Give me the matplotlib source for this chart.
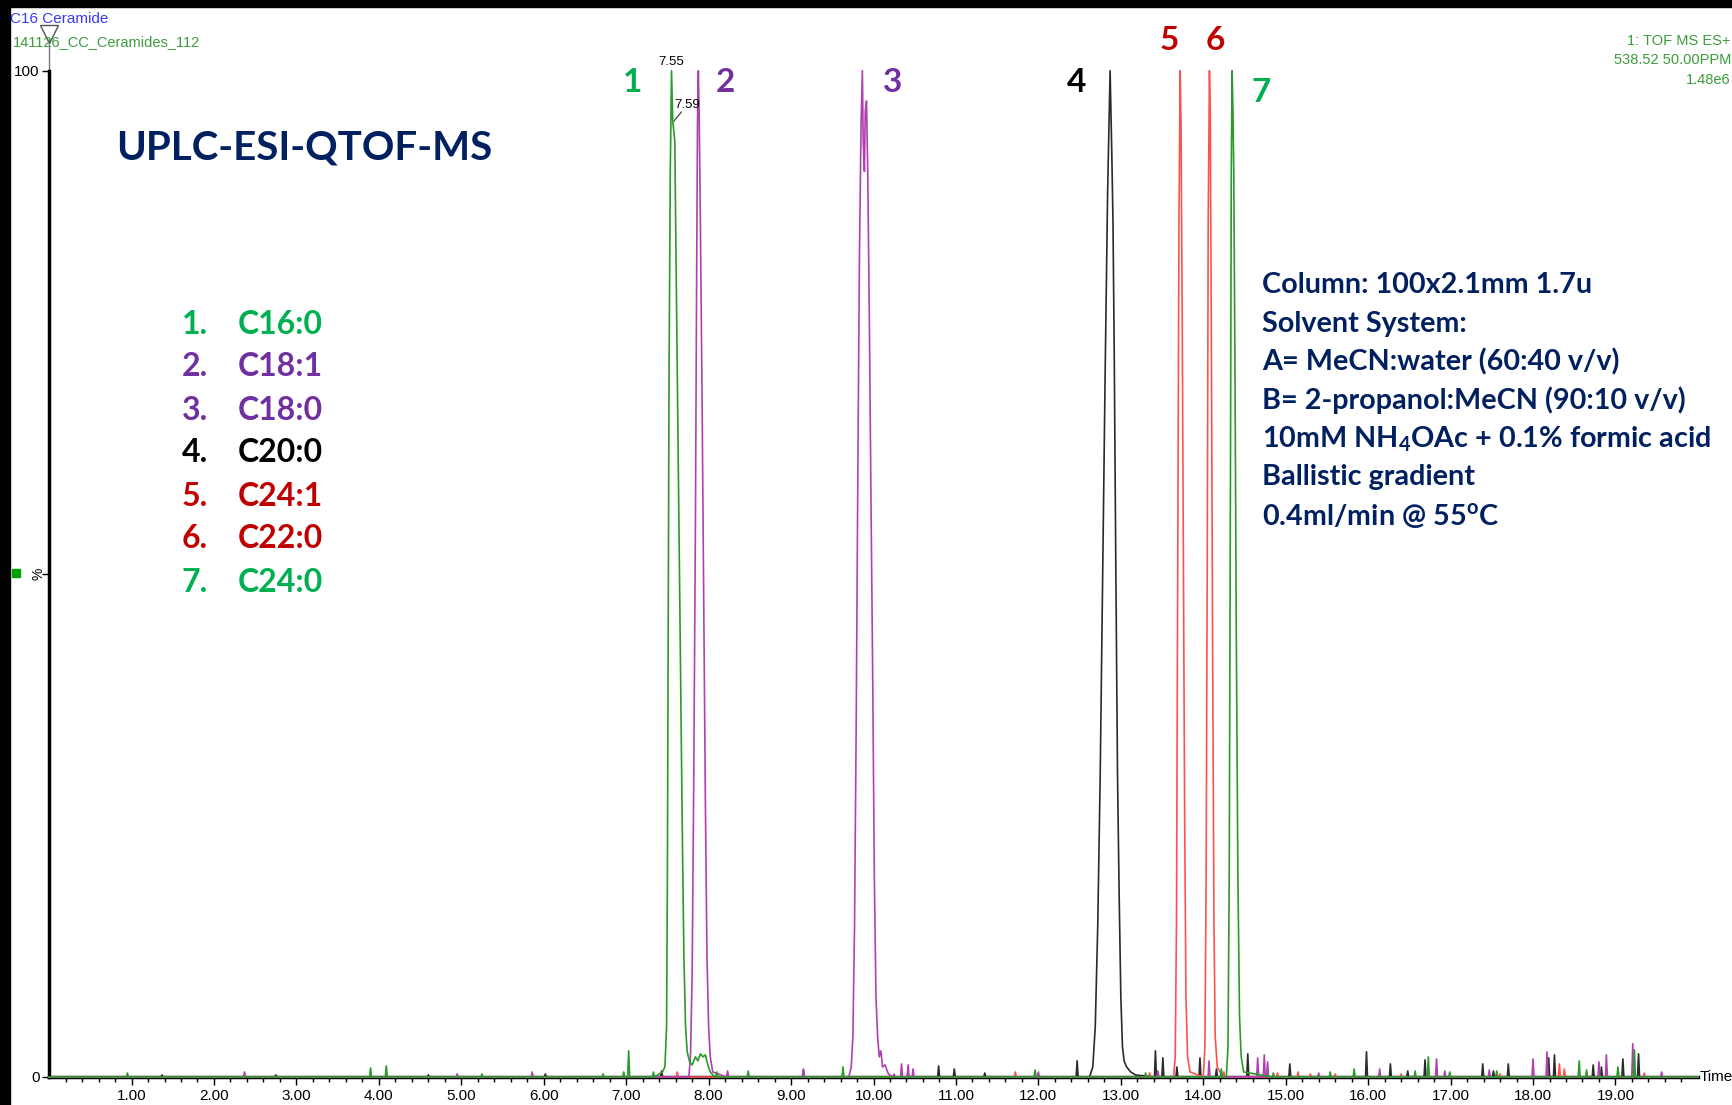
import numpy as np
import matplotlib
matplotlib.use('Agg')
import matplotlib.pyplot as plt
from matplotlib.patches import Rectangle

# ---- data (time in min, intensity in %) ----
compounds = ['C16:0', 'C18:1', 'C18:0', 'C20:0', 'C24:1', 'C22:0', 'C24:0']
peak_rt = [7.55, 7.87, 9.87, 12.87, 13.72, 14.075, 14.35]

green_peak1_t = [7.44, 7.47, 7.49, 7.50, 7.51, 7.52, 7.535, 7.55, 7.565, 7.59, 7.60,
                 7.62, 7.64, 7.66, 7.68, 7.70, 7.72, 7.74, 7.77, 7.80, 7.84, 7.87,
                 7.90, 7.93, 7.96, 7.99, 8.02, 8.05]
green_peak1_y = [0.5, 1.0, 5, 20, 45, 70, 90, 100, 95, 93, 85,
                 70, 55, 40, 25, 12, 5, 2.5, 1.5, 1.2, 2.0, 1.6,
                 2.3, 2.0, 2.2, 1.2, 0.5, 0.2]
green_peak7_t = [14.28, 14.30, 14.315, 14.33, 14.34, 14.35, 14.36, 14.37, 14.385,
                 14.40, 14.42, 14.44, 14.46, 14.49]
green_peak7_y = [0, 3, 20, 60, 90, 100, 96, 90, 70, 45, 20, 6, 2, 0.5]
green_noise = [(0.95, 0.4), (3.90, 0.9), (4.09, 1.1), (5.25, 0.3), (6.72, 0.3),
               (6.97, 0.5), (7.03, 2.6), (7.33, 0.5), (8.10, 0.5), (8.48, 0.6),
               (9.63, 1.0), (11.96, 0.7), (13.30, 0.4), (14.22, 0.8), (14.85, 0.4),
               (15.54, 0.5), (15.83, 0.8), (16.57, 0.6), (16.73, 2.0), (16.99, 0.5),
               (17.56, 0.6), (18.56, 1.6), (18.65, 0.7), (19.03, 1.0), (19.23, 2.7)]

purple_peak2_t = [7.76, 7.78, 7.80, 7.82, 7.84, 7.855, 7.865, 7.875, 7.885, 7.90,
                  7.92, 7.94, 7.96, 7.98, 8.00, 8.02, 8.05]
purple_peak2_y = [0, 2, 10, 30, 55, 80, 95, 100, 96, 85, 68, 48, 28, 12, 5, 2, 0.5]
purple_peak3_t = [9.70, 9.73, 9.75, 9.77, 9.79, 9.81, 9.83, 9.85, 9.865, 9.875, 9.89,
                  9.90, 9.915, 9.93, 9.95, 9.97, 9.99, 10.01, 10.03, 10.05, 10.07,
                  10.09, 10.11, 10.14, 10.18]
purple_peak3_y = [0, 1, 4, 15, 35, 60, 82, 95, 100, 93, 90,
                  96, 97, 90, 75, 57, 40, 20, 8, 4, 2,
                  2.6, 1, 1.2, 0.3]
purple_noise = [(2.37, 0.5), (4.95, 0.3), (5.86, 0.5), (8.23, 0.6), (9.15, 0.8),
                (10.25, 0.3), (10.34, 1.3), (10.42, 1.2), (10.48, 0.8), (12.00, 0.5),
                (13.45, 0.6), (14.07, 1.6), (14.66, 1.9), (14.74, 2.2), (14.78, 1.5),
                (15.40, 0.4), (16.14, 0.8), (16.83, 1.8), (16.93, 0.6), (17.47, 0.7),
                (18.00, 1.8), (18.17, 2.5), (18.80, 1.5), (18.89, 2.2), (19.21, 3.3),
                (19.56, 0.5)]

black_peak4_t = [12.62, 12.66, 12.69, 12.72, 12.75, 12.78, 12.81, 12.84, 12.87, 12.89,
                 12.905, 12.92, 12.94, 12.96, 12.98, 13.00, 13.02, 13.04, 13.07, 13.12,
                 13.18]
black_peak4_y = [0, 1, 5, 15, 30, 50, 70, 88, 100, 92,
                 85, 72, 50, 30, 18, 8, 3, 1.6, 1.0, 0.5,
                 0.2]
black_noise = [(1.37, 0.2), (2.75, 0.2), (4.60, 0.2), (6.02, 0.3), (7.43, 0.6),
               (9.15, 0.7), (10.79, 1.1), (10.98, 0.8), (11.35, 0.4), (12.47, 1.6),
               (13.42, 2.6), (13.51, 1.9), (13.68, 1.0), (13.96, 1.9), (14.16, 0.8),
               (14.54, 2.3), (15.05, 1.3), (15.98, 2.5), (16.27, 1.3), (16.48, 0.6),
               (16.69, 1.7), (17.39, 1.3), (17.52, 0.6), (17.70, 1.3), (18.19, 1.9),
               (18.26, 2.2), (18.73, 1.2), (18.83, 1.0), (19.09, 1.8), (19.28, 2.3)]

red_peak5_t = [13.64, 13.66, 13.675, 13.69, 13.705, 13.72, 13.73, 13.745, 13.76,
               13.775, 13.79, 13.81, 13.84]
red_peak5_y = [0, 2, 15, 50, 85, 100, 95, 75, 50, 25, 8, 2, 0.5]
red_peak6_t = [14.00, 14.02, 14.035, 14.05, 14.06, 14.075, 14.085, 14.10, 14.115,
               14.13, 14.145, 14.17]
red_peak6_y = [0, 3, 20, 55, 85, 100, 96, 70, 40, 15, 4, 1]
red_noise = [(7.62, 0.5), (11.72, 0.5), (13.35, 0.4), (14.25, 0.5), (14.90, 0.4),
             (15.15, 0.5), (15.30, 0.3), (15.60, 0.3), (16.40, 0.3), (17.60, 0.3),
             (18.32, 1.3), (18.38, 0.8), (19.35, 0.4)]

conditions = ['Column: 100x2.1mm 1.7u',
              'Solvent System:',
              'A= MeCN:water (60:40 v/v)',
              'B= 2-propanol:MeCN (90:10 v/v)',
              r'10mM NH$_\mathregular{4}$OAc + 0.1% formic acid',
              'Ballistic gradient',
              r'0.4ml/min @ 55$^\mathregular{o}$C']

header_right = ['1: TOF MS ES+', '538.52 50.00PPM', '1.48e6']

GREEN, PURPLE, BLACK, RED = '#00b050', '#7030a0', '#000000', '#c00000'
NAVY = '#002060'
label_colors = [GREEN, PURPLE, PURPLE, BLACK, RED, RED, GREEN]

W, H = 1733, 1105


def fx(px):
    return px / W


def fy(py):
    return 1 - py / H


def build_trace(peaks, spikes, hw=0.012):
    """baseline from 0 to 20 min with peak profiles and narrow noise spikes"""
    pts = [(0.0, 0.0), (20.0, 0.0)]
    for t, y in peaks:
        pts += list(zip(t, y))
    for t, h in spikes:
        pts += [(t - hw, 0.0), (t, h), (t + hw, 0.0)]
    pts.sort()
    return [p[0] for p in pts], [p[1] for p in pts]


fig = plt.figure(figsize=(W / 100, H / 100), dpi=100)
x0, x20 = 49.1, 1697.9
y0, ytop = 1077, 35.5
ax = fig.add_axes([fx(x0), (H - y0) / H, (x20 - x0) / W, (y0 - ytop) / H])
ax.set_xlim(0, 20)
ax.set_ylim(0, 103.5)

traces = [
    ([(black_peak4_t, black_peak4_y)], black_noise, '#2a2a2a'),
    ([(red_peak5_t, red_peak5_y), (red_peak6_t, red_peak6_y)], red_noise, '#ff5050'),
    ([(purple_peak2_t, purple_peak2_y), (purple_peak3_t, purple_peak3_y)], purple_noise, '#b040b0'),
    ([(green_peak1_t, green_peak1_y), (green_peak7_t, green_peak7_y)], green_noise, '#2a9a2a'),
]
for peaks, noise, c in traces:
    t, y = build_trace(peaks, noise)
    ax.plot(t, y, color=c, lw=1.2, clip_on=False, zorder=3)

# axes styling
for s in ['top', 'right']:
    ax.spines[s].set_visible(False)
ax.spines['left'].set_bounds(0, 100)
ax.spines['left'].set_linewidth(2.5)
ax.spines['bottom'].set_linewidth(2.5)
ax.set_xticks(np.arange(1, 20))
ax.set_xticklabels(['%.2f' % v for v in range(1, 20)])
ax.set_xticks(np.arange(0.2, 20.0, 0.2), minor=True)
ax.tick_params(axis='x', which='major', length=6, width=1, pad=3, labelsize=11)
ax.tick_params(axis='x', which='minor', length=3.5, width=1)
ax.set_yticks([0, 50, 100])
ax.set_yticklabels(['0', '', '100'])
ax.tick_params(axis='y', length=5, width=1, pad=2, labelsize=11)
for lab in ax.get_xticklabels() + ax.get_yticklabels():
    lab.set_fontfamily('Liberation Sans')
ax.text(-0.13, 50, '%', rotation=90, ha='center', va='center', fontsize=10,
        family='Liberation Sans')
ax.text(20.02, 0, 'Time', ha='left', va='center', fontsize=11, family='Liberation Sans')

# marker line above the axis
ax.plot([0, 0], [100, 103.2], color='#777777', lw=1, clip_on=False)
ax.plot(0, 103.6, marker='v', ms=13, mfc='none', mec='#555555', mew=1, clip_on=False)

# apex annotations
ax.text(peak_rt[0], 100.9, '7.55', ha='center', va='center', fontsize=9.5,
        family='Liberation Sans')
ax.text(7.74, 96.6, '7.59', ha='center', va='center', fontsize=9.5,
        family='Liberation Sans')
ax.plot([7.58, 7.67], [95.0, 95.9], color='#333333', lw=0.8)

# peak numbers
num_pos = [(633, 83), (725, 83), (893, 83), (1077, 83), (1169, 41), (1215, 41), (1261, 92)]
for i, (px, py) in enumerate(num_pos):
    fig.text(fx(px), fy(py), str(i + 1), ha='center', va='center', fontsize=24,
             fontweight='bold', family='Lato', color=label_colors[i])

# title and compound list
fig.text(fx(116), fy(148), 'UPLC-ESI-QTOF-MS', ha='left', va='center', fontsize=29,
         fontweight='bold', family='Lato', color=NAVY)
for i, name in enumerate(compounds):
    py = 324 + i * 43
    fig.text(fx(182), fy(py), '%d.' % (i + 1), ha='left', va='center', fontsize=23,
             fontweight='bold', family='Lato', color=label_colors[i])
    fig.text(fx(238), fy(py), name, ha='left', va='center', fontsize=23,
             fontweight='bold', family='Lato', color=label_colors[i])

for i, line in enumerate(conditions):
    fig.text(fx(1262), fy(285 + i * 38.5), line, ha='left', va='center', fontsize=20.7,
             fontweight='bold', family='Lato', color=NAVY)

# header texts
fig.text(fx(10), fy(19), 'C16 Ceramide', ha='left', va='center', fontsize=11,
         family='Liberation Sans', color='#3a3aff')
fig.text(fx(13), fy(42), '141126_CC_Ceramides_112', ha='left', va='center', fontsize=10.5,
         family='Liberation Sans', color='#3c9c3c')
for i, line in enumerate(header_right):
    fig.text(fx(1731), fy(41 + i * 19.5), line, ha='right', va='center', fontsize=10.5,
             family='Liberation Sans', color='#3c9c3c')

# frame strips and the small marker square
fig.add_artist(Rectangle((0, fy(7)), 1, 7 / H, transform=fig.transFigure,
                         color='black', zorder=10))
fig.add_artist(Rectangle((0, 0), 10 / W, 1, transform=fig.transFigure,
                         color='black', zorder=10))
fig.add_artist(Rectangle((fx(12), fy(577)), 8 / W, 8 / H, transform=fig.transFigure,
                         color='#00a000', zorder=10))

fig.savefig('out.png', dpi=100)
